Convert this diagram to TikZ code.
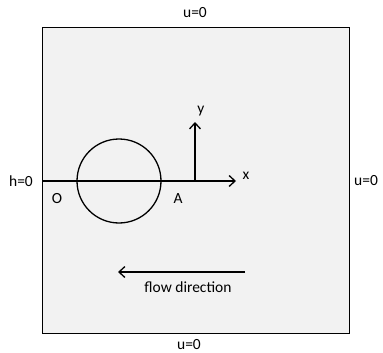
\documentclass[tikz,border=0pt]{standalone}
\usepackage{fontspec}
\setmainfont{Carlito}
\usetikzlibrary{arrows.meta}
\begin{document}
\begin{tikzpicture}[x=1pt,y=-1pt,
  lbl/.style={font=\fontsize{15.5}{17}\selectfont, inner sep=0pt},
  ln/.style={line width=1.3pt, black},
  arr/.style={ln, -{Straight Barb[length=6pt,width=11pt,line width=1.3pt]}}]
\useasboundingbox (0,0) rectangle (383,353);
\node[draw=black, line width=1pt, fill={rgb,255:red,242;green,242;blue,242}, minimum width=307pt, minimum height=305pt, inner sep=0pt] (box) at (195.5,180.5) {};
\node[lbl] (top) at (195,13) {u=0};
\node[lbl] (bot) at (189,345) {u=0};
\node[lbl] (left) at (21,181) {h=0};
\node[lbl] (right) at (366,181) {u=0};
\coordinate (o) at (42,181);
\coordinate (xe) at (236,181);
\coordinate (yb) at (195,181);
\coordinate (ye) at (195,122);
\node[circle, draw=black, line width=1.3pt, minimum size=84pt, inner sep=0pt] (c) at (119,181) {};
\draw[arr] (o) -- (xe);
\draw[arr] (yb) -- (ye);
\node[lbl] (xl) at (246,176) {x};
\node[lbl] (yl) at (201,111) {y};
\node[lbl] (O) at (57,199) {O};
\node[lbl] (A) at (178,199) {A};
\coordinate (fs) at (245,272);
\coordinate (fe) at (118,272);
\draw[arr] (fs) -- (fe);
\node[lbl] (fl) at (188,287) {flow direction};
\end{tikzpicture}
\end{document}
